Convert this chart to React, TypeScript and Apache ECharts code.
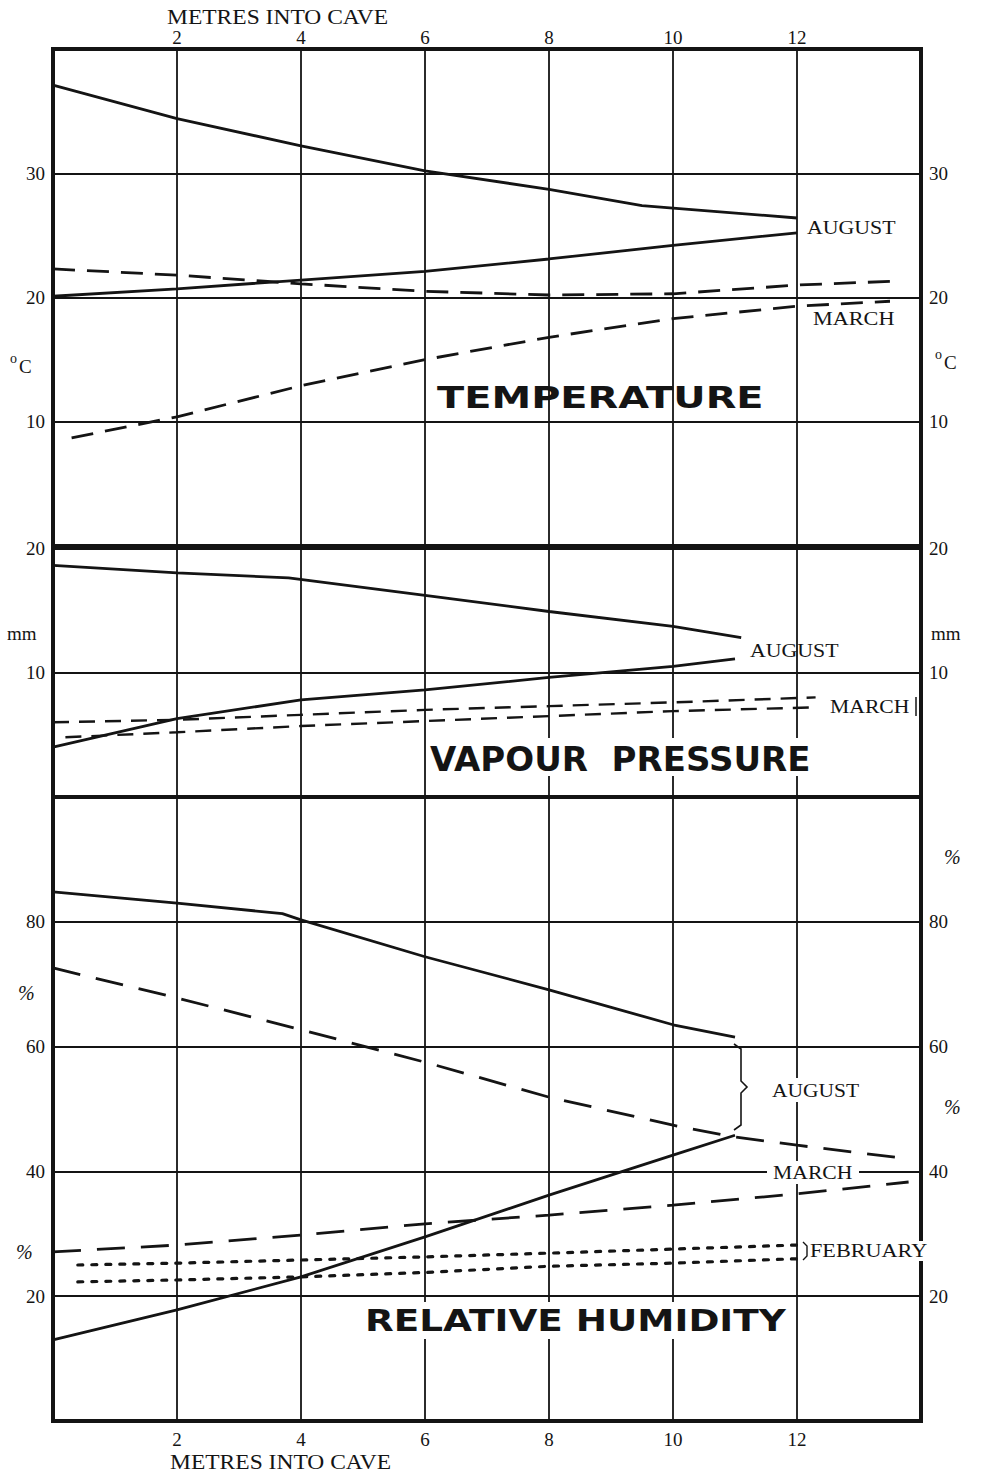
import React, { useEffect, useRef } from 'react';
import * as echarts from 'echarts';

// ---- data ----
const xTickLabels = ['2', '4', '6', '8', '10', '12'];

// Temperature (°C)
const tempAugustUpper = [[0, 37.1], [2, 34.4], [4, 32.2], [6, 30.2], [8, 28.7], [9.5, 27.4], [10, 27.2], [12, 26.4]];
const tempAugustLower = [[0, 20.1], [2, 20.7], [4, 21.4], [6, 22.1], [8, 23.1], [10, 24.2], [12, 25.2]];
const tempMarchUpper = [[0, 22.3], [2, 21.8], [4, 21.1], [6, 20.5], [8, 20.2], [10, 20.3], [12, 21.0], [13.5, 21.3]];
const tempMarchLower = [[0.3, 8.7], [2, 10.4], [4, 12.9], [6, 15.0], [8, 16.8], [10, 18.3], [12, 19.3], [13.5, 19.7]];

// Vapour pressure (mm)
const vpAugustUpper = [[0, 18.6], [2, 18.0], [3.8, 17.6], [6, 16.2], [8, 14.9], [10, 13.7], [11.1, 12.8]];
const vpAugustLower = [[0, 4.0], [2, 6.3], [4, 7.8], [6, 8.6], [8, 9.6], [10, 10.5], [11, 11.1]];
const vpMarchUpper = [[0, 6.0], [2, 6.2], [4, 6.6], [6, 7.0], [8, 7.3], [10, 7.6], [12.3, 8.0]];
const vpMarchLower = [[0.2, 4.8], [2, 5.2], [4, 5.7], [6, 6.1], [8, 6.5], [10, 6.9], [12.3, 7.2]];

// Relative humidity (%)
const rhAugustUpper = [[0, 84.8], [2, 83.0], [3.7, 81.3], [4, 80.3], [6, 74.4], [8, 69.1], [10, 63.5], [11, 61.5]];
const rhAugustLower = [[0, 13.0], [2, 17.8], [4, 23.1], [6, 29.5], [8, 36.2], [10, 42.6], [11, 45.8]];
const rhMarchUpper = [[0, 72.6], [2, 67.8], [4, 62.7], [6, 57.5], [8, 51.9], [10, 47.4], [11, 45.5], [12, 44.2], [13.8, 42.0]];
const rhMarchLower = [[0, 27.1], [2, 28.2], [4, 29.8], [6, 31.6], [8, 33.0], [10, 34.6], [12, 36.4], [13.8, 38.3]];
const rhFebruaryUpper = [[0.4, 25.0], [2, 25.3], [4, 25.8], [6, 26.3], [8, 26.9], [12, 28.2]];
const rhFebruaryLower = [[0.4, 22.3], [2, 22.6], [4, 23.1], [6, 23.8], [8, 24.8], [10, 25.3], [12, 26.0]];

const INK = '#141414';
const SERIF = '"Liberation Serif", "DejaVu Serif", serif';
const SANS = '"DejaVu Sans", "Liberation Sans", sans-serif';

const txt = (text: string, x: number, y: number, size: number, scaleX = 1, extra: any = {}) => ({
  type: 'text',
  x,
  y,
  scaleX,
  z: 100,
  style: {
    text,
    fontSize: size,
    fontFamily: SERIF,
    fill: INK,
    textAlign: 'left',
    align: 'left',
    textVerticalAlign: 'middle',
    verticalAlign: 'middle',
    ...extra,
  },
});

const whiteRect = (x: number, y: number, w: number, h: number) => ({
  type: 'rect',
  z: 99,
  shape: { x, y, width: w, height: h },
  style: { fill: '#fff' },
});

export default function App() {
  const ref = useRef<HTMLDivElement>(null);

  useEffect(() => {
    if (!ref.current) return;
    const chart = echarts.init(ref.current, null, { renderer: 'svg' });

    const gridLeft = 53;
    const gridRight = 60;
    const grids = [
      { left: gridLeft, right: gridRight, top: 49, height: 497 },
      { left: gridLeft, right: gridRight, top: 548, height: 249 },
      { left: gridLeft, right: gridRight, top: 797, height: 624 },
    ].map((g) => ({ ...g, show: true, borderColor: INK, borderWidth: 4, backgroundColor: 'transparent' }));

    const splitStyle = { show: true, lineStyle: { color: INK, width: 1.8 } };
    const xLabelFmt = (v: number) => (xTickLabels.indexOf(String(v)) >= 0 ? String(v) : '');

    const mkX = (gridIndex: number, showLabel: boolean, position: string) => ({
      type: 'value',
      gridIndex,
      min: 0,
      max: 14,
      interval: 2,
      position,
      axisLine: { show: false },
      axisTick: { show: false },
      splitLine: splitStyle,
      axisLabel: {
        show: showLabel,
        formatter: xLabelFmt,
        fontFamily: SERIF,
        fontSize: 19,
        color: INK,
        margin: position === 'top' ? 2 : 9,
      },
    });

    const mkY = (gridIndex: number, max: number, interval: number, position: string, fmt: (v: number) => string, split: boolean) => ({
      type: 'value',
      gridIndex,
      min: 0,
      max,
      interval,
      position,
      axisLine: { show: false },
      axisTick: { show: false },
      splitLine: split ? splitStyle : { show: false },
      axisLabel: {
        formatter: fmt,
        fontFamily: SERIF,
        fontSize: 19,
        color: INK,
        margin: 8,
      },
    });

    const tempFmt = (v: number) => (v > 0 && v < 40 ? String(v) : '');
    const vpFmt = (v: number) => (v > 0 ? String(v) : '');
    const rhFmt = (v: number) => (v > 0 && v < 100 ? String(v) : '');

    const solid = { color: INK, width: 2.8, type: 'solid' };
    const line = (name: string, xi: number, yi: number, data: number[][], lineStyle: any) => ({
      name,
      type: 'line',
      xAxisIndex: xi,
      yAxisIndex: yi,
      data,
      symbol: 'none',
      showSymbol: false,
      silent: true,
      z: 5,
      lineStyle,
    });

    const tempDash = { color: INK, width: 2.8, type: [22, 12] };
    const vpDash = { color: INK, width: 2.4, type: [16, 10] };
    const rhDash = { color: INK, width: 2.8, type: [28, 16] };
    const dots = { color: INK, width: 3.2, type: [5, 9], cap: 'round' };

    const option: any = {
      animation: false,
      backgroundColor: '#fff',
      grid: grids,
      xAxis: [mkX(0, true, 'top'), mkX(1, false, 'bottom'), mkX(2, true, 'bottom')],
      yAxis: [
        mkY(0, 40, 10, 'left', tempFmt, true),
        mkY(0, 40, 10, 'right', tempFmt, false),
        mkY(1, 20, 10, 'left', vpFmt, true),
        mkY(1, 20, 10, 'right', vpFmt, false),
        mkY(2, 100, 20, 'left', rhFmt, true),
        mkY(2, 100, 20, 'right', rhFmt, false),
      ],
      series: [
        line('Temperature August (upper)', 0, 0, tempAugustUpper, solid),
        line('Temperature August (lower)', 0, 0, tempAugustLower, solid),
        line('Temperature March (upper)', 0, 0, tempMarchUpper, tempDash),
        line('Temperature March (lower)', 0, 0, tempMarchLower, tempDash),
        line('Vapour pressure August (upper)', 1, 2, vpAugustUpper, solid),
        line('Vapour pressure August (lower)', 1, 2, vpAugustLower, solid),
        line('Vapour pressure March (upper)', 1, 2, vpMarchUpper, vpDash),
        line('Vapour pressure March (lower)', 1, 2, vpMarchLower, vpDash),
        line('Relative humidity August (upper)', 2, 4, rhAugustUpper, solid),
        line('Relative humidity August (lower)', 2, 4, rhAugustLower, solid),
        line('Relative humidity March (upper)', 2, 4, rhMarchUpper, rhDash),
        line('Relative humidity March (lower)', 2, 4, rhMarchLower, rhDash),
        line('Relative humidity February (upper)', 2, 4, rhFebruaryUpper, dots),
        line('Relative humidity February (lower)', 2, 4, rhFebruaryLower, dots),
      ],
      graphic: [
        // axis titles
        txt('METRES INTO CAVE', 167, 17, 21, 1.12),
        txt('METRES INTO CAVE', 170, 1462, 21, 1.12),
        // units: temperature
        txt('o', 10, 358, 14),
        txt('C', 19, 366, 19),
        txt('o', 935, 354, 14),
        txt('C', 944, 362, 19),
        // units: vapour pressure
        txt('mm', 7, 633, 19),
        txt('mm', 931, 633, 19),
        // units: relative humidity
        txt('%', 18, 993, 20, 1, { fontStyle: 'italic' }),
        txt('%', 16, 1252, 20, 1, { fontStyle: 'italic' }),
        txt('%', 944, 857, 20, 1, { fontStyle: 'italic' }),
        txt('%', 944, 1107, 20, 1, { fontStyle: 'italic' }),
        // panel titles
        txt('TEMPERATURE', 437, 397, 30, 1.33, { fontFamily: SANS, fontWeight: 'bold' }),
        whiteRect(426, 738, 392, 38),
        txt('VAPOUR  PRESSURE', 430, 759, 34, 1.0, { fontFamily: SANS, fontWeight: 'bold' }),
        whiteRect(360, 1302, 432, 37),
        txt('RELATIVE HUMIDITY', 365, 1321, 30, 1.245, { fontFamily: SANS, fontWeight: 'bold' }),
        // month labels: temperature
        txt('AUGUST', 807, 228, 19, 1.15),
        txt('MARCH', 813, 319, 19, 1.17),
        // month labels: vapour pressure
        txt('AUGUST', 750, 651, 19, 1.15),
        txt('MARCH', 830, 706, 19, 1.14),
        {
          type: 'line', z: 100,
          shape: { x1: 916, y1: 697, x2: 916, y2: 716 },
          style: { stroke: INK, lineWidth: 1.5 },
        },
        // month labels: relative humidity
        whiteRect(766, 1078, 98, 24),
        txt('AUGUST', 772, 1090, 19, 1.13),
        whiteRect(767, 1161, 92, 23),
        txt('MARCH', 773, 1172, 19, 1.14),
        whiteRect(809, 1241, 122, 20),
        txt('FEBRUARY', 810, 1251, 19, 1.17),
        // braces
        {
          type: 'polyline', z: 100,
          shape: { points: [[734, 1044], [741, 1049], [741, 1081], [747, 1087], [741, 1093], [741, 1125], [734, 1130]] },
          style: { stroke: INK, lineWidth: 1.6, fill: 'none' },
        },
        {
          type: 'polyline', z: 100,
          shape: { points: [[803, 1242], [807, 1246], [807, 1256], [803, 1260]] },
          style: { stroke: INK, lineWidth: 1.4, fill: 'none' },
        },
      ],
    };

    chart.setOption(option);
    return () => chart.dispose();
  }, []);

  return (
    <div
      ref={ref}
      style={{ position: 'absolute', left: 0, top: 0, width: 981, height: 1475, background: '#fff' }}
    />
  );
}
